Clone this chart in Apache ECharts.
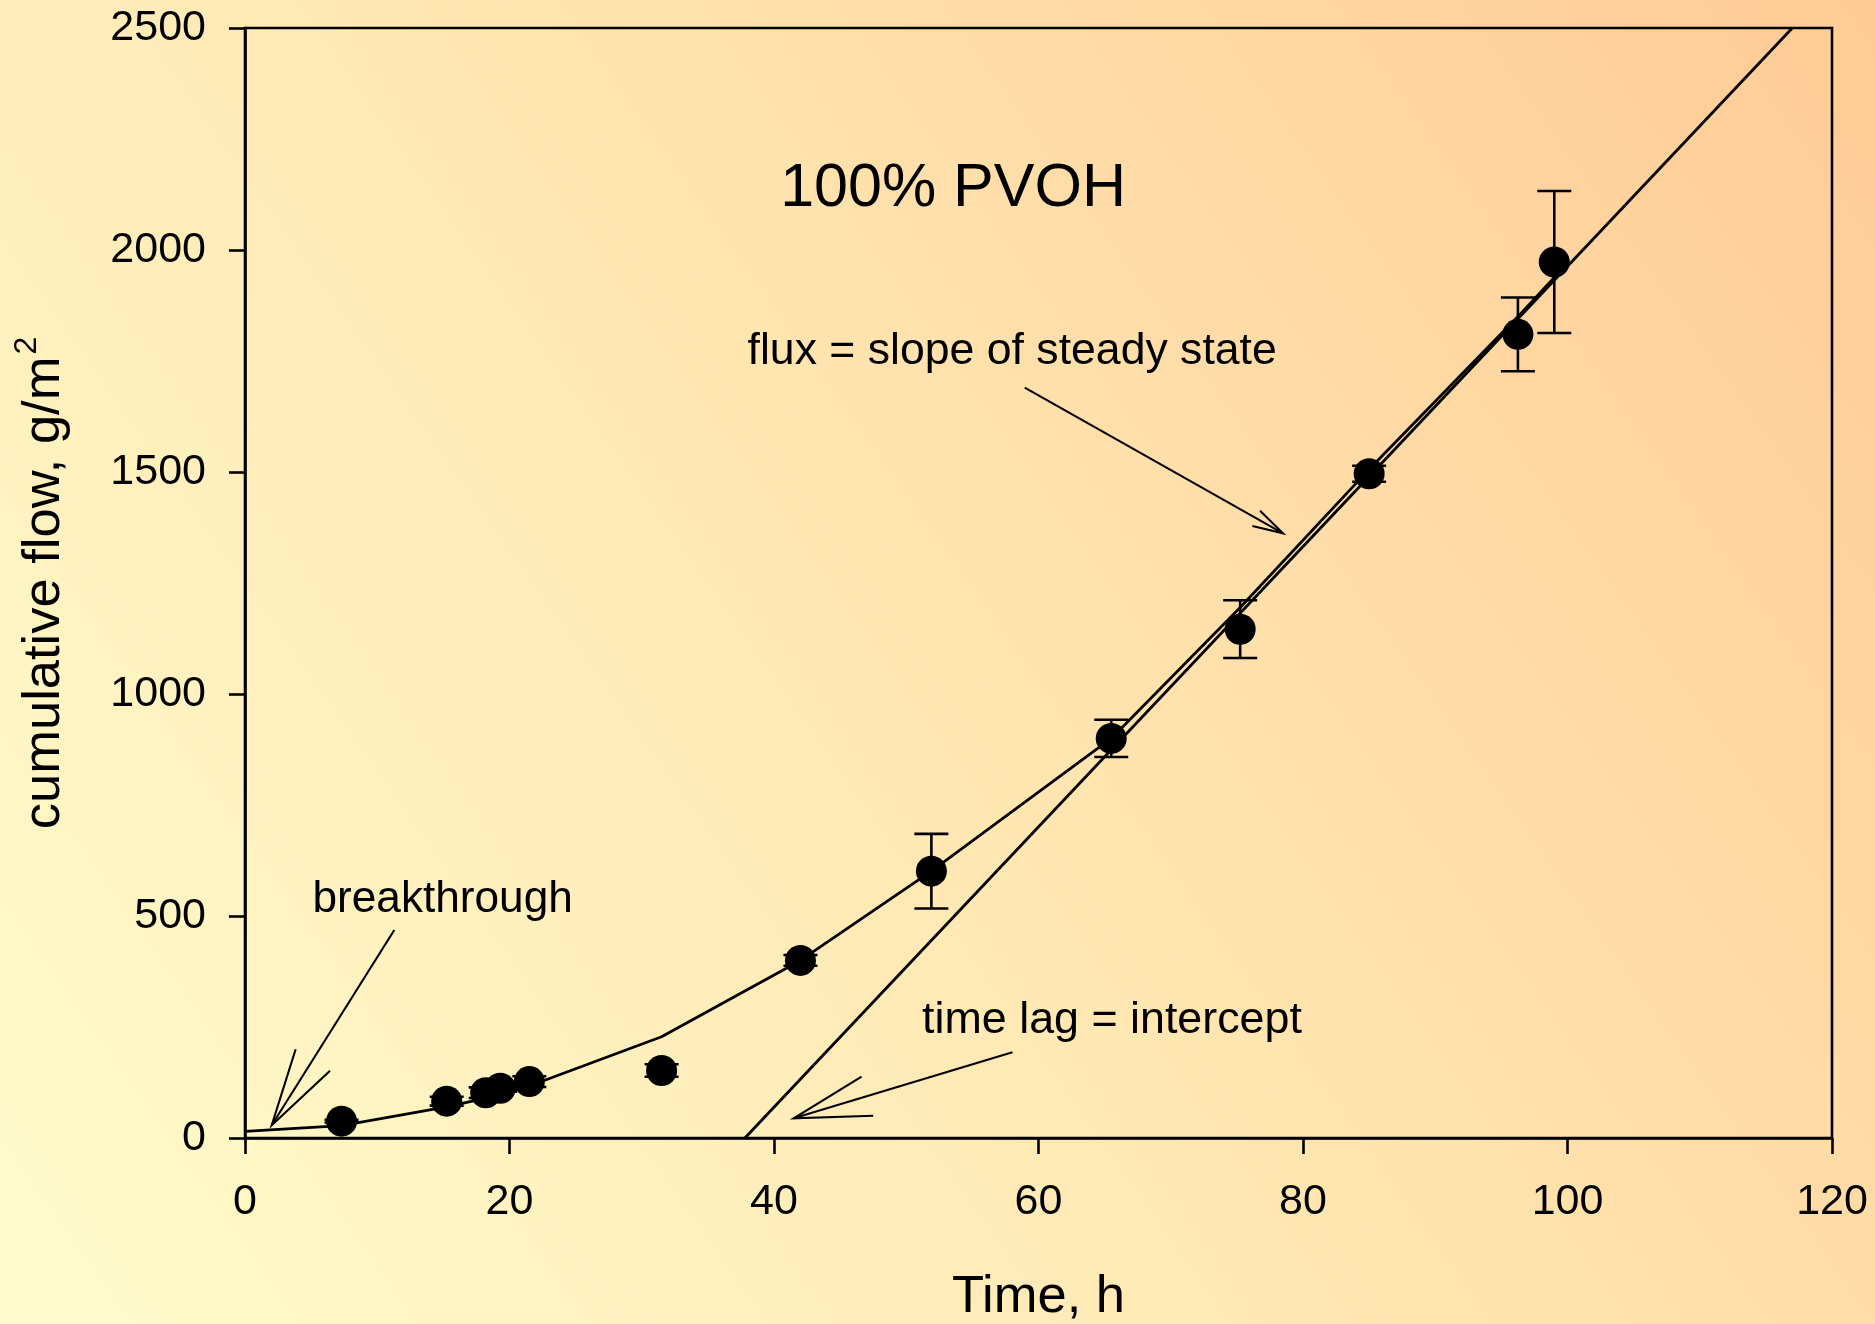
<!DOCTYPE html>
<html>
<head>
<meta charset="utf-8">
<script src="https://cdn.jsdelivr.net/npm/echarts@6/dist/echarts.min.js"></script>
<style>html,body{margin:0;padding:0;}#c{width:1875px;height:1324px;}</style>
</head>
<body>
<div id="c"></div>
<script>
// ---- data ----
var timeH   = [7.3, 15.25, 18.2, 19.3, 21.5, 31.5, 42.0, 51.9, 65.5, 75.25, 85.0, 96.25, 99.0];
var flow    = [38, 83, 102, 112, 127, 152, 400, 601, 900, 1146, 1496, 1810, 1973];
var flowErr = [3, 10, 12, 8, 12, 14, 12, 84, 42, 65, 18, 83, 160];

var curveT  = [0, 7.3, 15.25, 18.2, 19.3, 21.5, 31.5, 42.0, 51.9, 65.5, 75.25, 85.0, 96.25, 99.0];
var curveF  = [15, 28, 70, 90, 98, 117, 228, 400, 601, 900, 1195, 1506, 1850, 1938];

var steadyT = [37.8, 117.0];
var steadyF = [0, 2500];

var xTicks = [0, 20, 40, 60, 80, 100, 120];
var yTicks = [0, 500, 1000, 1500, 2000, 2500];

// annotation texts (anchor in data coords)
var noteText = ['100% PVOH', 'flux = slope of steady state', 'breakthrough', 'time lag = intercept'];
var noteX    = [53.54, 38.0, 5.1, 51.2];
var noteY    = [2137, 1772, 537, 265];

// arrows: shaft start, tip, head ends (data coords)
var arrowStartX = [11.29, 58.03, 58.96];
var arrowStartY = [468.5, 193.0, 1689.9];
var arrowTipX   = [2.02, 41.49, 78.49];
var arrowTipY   = [28.6, 44.4, 1361.9];
var arrowH1X    = [3.83, 46.62, 76.75];
var arrowH1Y    = [199.8, 138.1, 1412.8];
var arrowH2X    = [6.43, 47.50, 76.17];
var arrowH2Y    = [151.6, 50.2, 1378.4];

var FONT = 'Liberation Sans, Arial, Helvetica, sans-serif';

var chart = echarts.init(document.getElementById('c'));

var pts = timeH.map(function (t, i) { return [t, flow[i]]; });
var errData = timeH.map(function (t, i) { return [t, flow[i] - flowErr[i], flow[i] + flowErr[i]]; });
var curveData = curveT.map(function (t, i) { return [t, curveF[i]]; });
var steadyData = steadyT.map(function (t, i) { return [t, steadyF[i]]; });
var noteData = noteText.map(function (s, i) { return [noteX[i], noteY[i], i]; });
var arrowData = arrowStartX.map(function (s, i) {
  return [arrowStartX[i], arrowStartY[i], arrowTipX[i], arrowTipY[i], arrowH1X[i], arrowH1Y[i], arrowH2X[i], arrowH2Y[i]];
});
var noteSize = [61, 44.6, 44.2, 44.8];
var noteAlign = ['center', 'left', 'left', 'left'];

var axisCommon = {
  type: 'value',
  axisLine: { show: true, onZero: false, lineStyle: { color: '#000', width: 2.6 } },
  axisTick: { show: true, inside: false, length: 16, lineStyle: { color: '#000', width: 2.6 } },
  splitLine: { show: false },
  minorTick: { show: false }
};

chart.setOption({
  animation: false,
  backgroundColor: new echarts.graphic.LinearGradient(0, 1, 1, 0, [
    { offset: 0, color: '#FFFCCC' },
    { offset: 0.5, color: '#FFE6B1' },
    { offset: 1, color: '#FFCA96' }
  ]),
  grid: { left: 245, right: 43, top: 28, bottom: 186, show: true, borderColor: '#000', borderWidth: 2.6,
    backgroundColor: 'transparent', containLabel: false, outerBoundsMode: 'none' },
  xAxis: Object.assign({}, axisCommon, {
    min: 0, max: 120, interval: 20,
    axisLabel: { show: true, color: '#000', fontSize: 43, fontFamily: FONT, margin: 43,
      formatter: function (v) { return xTicks.indexOf(v) >= 0 ? String(v) : ''; } },
    name: 'Time, h', nameLocation: 'middle', nameGap: 133,
    nameTextStyle: { color: '#000', fontSize: 52.5, fontFamily: FONT }
  }),
  yAxis: Object.assign({}, axisCommon, {
    min: 0, max: 2500, interval: 500,
    axisLabel: { show: true, color: '#000', fontSize: 43, fontFamily: FONT, margin: 39,
      formatter: function (v) { return yTicks.indexOf(v) >= 0 ? String(v) : ''; } },
    name: '{a|cumulative flow, g/m}{s|2}', nameLocation: 'middle', nameGap: 174,
    nameTextStyle: { color: '#000', fontSize: 52.5, fontFamily: FONT,
      rich: {
        a: { fontSize: 52.5, fontFamily: FONT, color: '#000', lineHeight: 60, verticalAlign: 'bottom' },
        s: { fontSize: 32, fontFamily: FONT, color: '#000', lineHeight: 60, verticalAlign: 'top', padding: [0, 0, 0, 2] }
      } }
  }),
  series: [
    {
      type: 'line', data: curveData, symbol: 'none', silent: true,
      lineStyle: { color: '#000', width: 2.8 }, z: 2
    },
    {
      type: 'line', data: steadyData, symbol: 'none', silent: true,
      lineStyle: { color: '#000', width: 2.8 }, z: 2
    },
    {
      type: 'custom', data: errData, z: 3, silent: true,
      renderItem: function (params, api) {
        var lo = api.coord([api.value(0), api.value(1)]);
        var hi = api.coord([api.value(0), api.value(2)]);
        var w = 17;
        var st = { stroke: '#000', lineWidth: 2.6 };
        return { type: 'group', children: [
          { type: 'line', shape: { x1: lo[0], y1: lo[1], x2: hi[0], y2: hi[1] }, style: st },
          { type: 'line', shape: { x1: lo[0] - w, y1: lo[1], x2: lo[0] + w, y2: lo[1] }, style: st },
          { type: 'line', shape: { x1: hi[0] - w, y1: hi[1], x2: hi[0] + w, y2: hi[1] }, style: st }
        ] };
      }
    },
    {
      type: 'scatter', data: pts, symbol: 'circle', symbolSize: 31, z: 4, silent: true,
      itemStyle: { color: '#000', opacity: 1 }
    },
    {
      type: 'custom', data: arrowData, z: 5, silent: true, clip: false,
      renderItem: function (params, api) {
        var s = api.coord([api.value(0), api.value(1)]);
        var t = api.coord([api.value(2), api.value(3)]);
        var h1 = api.coord([api.value(4), api.value(5)]);
        var h2 = api.coord([api.value(6), api.value(7)]);
        var st = { stroke: '#000', lineWidth: 2.1, fill: null };
        return { type: 'group', children: [
          { type: 'line', shape: { x1: s[0], y1: s[1], x2: t[0], y2: t[1] }, style: st },
          { type: 'polyline', shape: { points: [h1, t, h2] }, style: st }
        ] };
      }
    },
    {
      type: 'custom', data: noteData, z: 6, silent: true, clip: false,
      renderItem: function (params, api) {
        var p = api.coord([api.value(0), api.value(1)]);
        var i = api.value(2);
        return { type: 'text', x: p[0], y: p[1], style: {
          text: noteText[i], fill: '#000', fontSize: noteSize[i], fontFamily: FONT,
          align: noteAlign[i], verticalAlign: 'middle'
        } };
      }
    }
  ]
});
</script>
</body>
</html>
